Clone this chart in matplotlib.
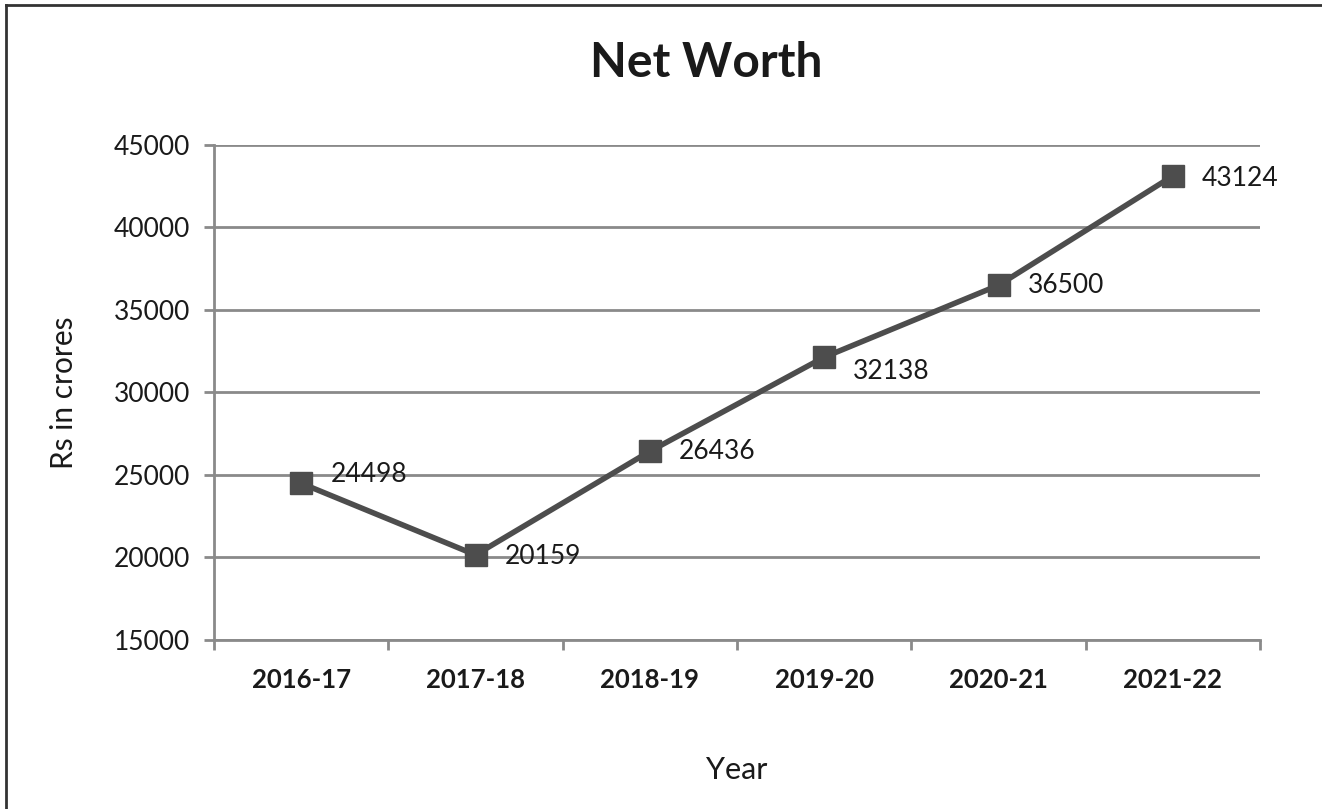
import matplotlib
matplotlib.use('Agg')
import matplotlib.pyplot as plt
from matplotlib.lines import Line2D

plt.rcParams['font.family'] = ['Lato', 'DejaVu Sans']

years = ['2016-17', '2017-18', '2018-19', '2019-20', '2020-21', '2021-22']
net_worth = [24498, 20159, 26436, 32138, 36500, 43124]
yticks = [15000, 20000, 25000, 30000, 35000, 40000, 45000]
# vertical nudge of each data label, in points
label_dy = [6, -1, 0, -10, 0, -2]

dark = '#4d4d4d'
grid = '#8a8a8a'
txt = '#1a1a1a'

fig = plt.figure(figsize=(13.22, 8.09), dpi=100)
ax = fig.add_axes([0.1619, 0.2089, 0.7912, 0.6119])

x = list(range(len(years)))
ax.plot(x, net_worth, color=dark, lw=4, marker='s', ms=16.5, mfc=dark, mec=dark, zorder=3)

for xi, v, dy in zip(x, net_worth, label_dy):
    ax.annotate(str(v), (xi, v), xytext=(21, dy), textcoords='offset points',
                ha='left', va='center', fontsize=19, color=txt, zorder=4)

ax.set_xlim(-0.5, len(years) - 0.5)
ax.set_ylim(15000, 45000)
ax.set_yticks(yticks)
ax.set_yticklabels([str(t) for t in yticks], fontsize=19, color=txt)
ax.set_xticks(x)
ax.set_xticklabels(years, fontsize=18.5, fontweight='bold', color=txt)
ax.set_xticks([i - 0.5 for i in range(len(years) + 1)], minor=True)
ax.tick_params(axis='x', which='major', length=0, pad=20)
ax.tick_params(axis='x', which='minor', length=7, width=2, color=grid)
ax.tick_params(axis='y', length=7, width=2, color=grid, pad=10)

ax.grid(axis='y', color=grid, lw=2)
ax.set_axisbelow(True)
for s in ['top', 'right']:
    ax.spines[s].set_visible(False)
for s in ['left', 'bottom']:
    ax.spines[s].set_color(grid)
    ax.spines[s].set_linewidth(2)

ax.set_xlabel('Year', fontsize=22, labelpad=46, color=txt)
ax.set_ylabel('Rs in crores', fontsize=21.5, labelpad=26, color=txt)
fig.text(0.534, 0.922, 'Net Worth', ha='center', va='center', fontsize=34.5,
         fontweight='bold', color=txt)

# outer frame (only top and left edges visible in the reference)
fig.add_artist(Line2D([0.0045, 1], [0.9935, 0.9935], color='#333333', lw=2, transform=fig.transFigure))
fig.add_artist(Line2D([0.0045, 0.0045], [0, 0.9935], color='#333333', lw=2, transform=fig.transFigure))

fig.savefig('out.png', dpi=100)
